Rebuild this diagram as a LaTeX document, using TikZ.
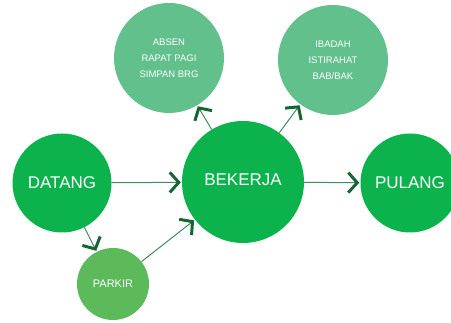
\documentclass[tikz,border=0pt]{standalone}
\usepackage{fontspec}
\setmainfont{Liberation Sans}
\usetikzlibrary{arrows.meta, positioning}

\definecolor{maingreen}{RGB}{12,178,76}
\definecolor{softgreen}{RGB}{98,192,140}
\definecolor{parkgreen}{RGB}{92,186,90}
\definecolor{shaftgreen}{RGB}{62,140,96}
\definecolor{tipgreen}{RGB}{22,102,52}

\begin{document}
\begin{tikzpicture}[
    x=1pt, y=-1pt,
    stage/.style={circle, fill=maingreen, text=white, inner sep=0pt, align=center,
        font=\fontsize{17}{20}\selectfont},
    bigstage/.style={stage, minimum size=122pt},
    endstage/.style={stage, minimum size=99pt},
    substage/.style={stage, fill=softgreen, minimum size=110pt,
        font=\fontsize{9.5}{16}\selectfont},
    parkstage/.style={stage, fill=parkgreen, minimum size=72pt,
        font=\fontsize{11}{13}\selectfont},
    flow/.style={draw=shaftgreen, line width=1pt, shorten >=1pt,
        -{Straight Barb[length=9pt, width=20pt, line width=3pt, color=tipgreen]}}
]
\useasboundingbox (0,0) rectangle (451,323);

% Main line of the day
\node[endstage] (datang) at (62,183) {DATANG};
\node[bigstage] (bekerja) at (243,182) {\raisebox{5pt}{BEKERJA}};
\node[endstage] (pulang) at (410,183) {PULANG};

% Side activities
\node[substage] (absen) at (169,58) {ABSEN\\RAPAT PAGI\\SIMPAN BRG};
\node[substage] (ibadah) at (333,60) {IBADAH\\ISTIRAHAT\\BAB/BAK};
\node[parkstage] (parkir) at (113,284) {PARKIR};

% Arrows
\draw[flow] (datang) -- (bekerja);
\draw[flow] (bekerja) -- (pulang);
\draw[flow] (datang) -- (parkir);
\draw[flow] (parkir) -- (bekerja);
\draw[flow] (bekerja) -- (absen);
\draw[flow] (bekerja) -- (ibadah);

\end{tikzpicture}
\end{document}
